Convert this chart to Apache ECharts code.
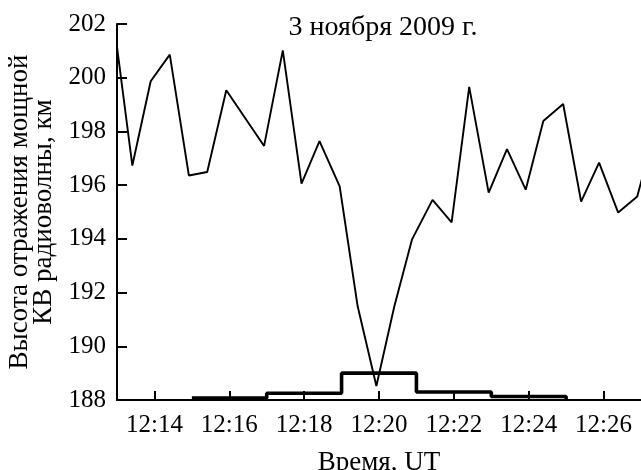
<!DOCTYPE html>
<html>
<head>
<meta charset="utf-8">
<script src="https://cdn.jsdelivr.net/npm/echarts@6/dist/echarts.min.js"></script>
<style>html,body{margin:0;padding:0;background:#fff}#c{width:641px;height:470px}</style>
</head>
<body>
<div id="c"></div>
<script>
// Time in minutes after 12:00
const lineTimes = [13.0, 13.41, 13.9, 14.41, 14.92, 15.41, 15.92, 16.93, 17.43, 17.93, 18.41, 18.95, 19.43, 19.93, 20.41, 20.88, 21.43, 21.94, 22.41, 22.93, 23.42, 23.92, 24.39, 24.92, 25.4, 25.88, 26.39, 26.9, 27.4];
const lineValues = [201.15, 196.73, 199.87, 200.86, 196.36, 196.49, 199.53, 197.46, 201.02, 196.06, 197.64, 195.95, 191.49, 188.52, 191.49, 193.97, 195.45, 194.61, 199.66, 195.72, 197.34, 195.83, 198.39, 199.02, 195.39, 196.84, 194.98, 195.58, 198.2];
const stepTimes = [15, 17, 19, 21, 23, 25];
const stepValues = [188.07, 188.25, 189.0, 188.3, 188.13, 188.0];
const xTickValues = [14, 16, 18, 20, 22, 24, 26];
const yTicks = {min: 188, max: 202, interval: 2};
const titleText = '3 ноября 2009 г.';
const yName = 'Высота отражения мощной\nКВ радиоволны, км';
const xName = 'Время, UT';

const font = 'Liberation Serif';
const fmtTime = v => '12:' + String(Math.round(v)).padStart(2, '0');

const chart = echarts.init(document.getElementById('c'), null, {renderer: 'canvas'});
chart.setOption({
  animation: false,
  backgroundColor: '#fff',
  title: {
    text: titleText, left: 378, top: 9, textAlign: 'center',
    textStyle: {fontFamily: font, fontSize: 28, fontWeight: 'normal', color: '#000'}
  },
  grid: {left: 117, top: 24, right: 0, bottom: 70, containLabel: false, outerBoundsMode: 'none'},
  xAxis: {
    type: 'value', min: 13, max: 27,
    axisLine: {show: true, onZero: false, lineStyle: {color: '#000', width: 2}},
    axisTick: {show: true, inside: true, length: 9, customValues: xTickValues, lineStyle: {color: '#000', width: 2}},
    axisLabel: {customValues: xTickValues, formatter: fmtTime, fontFamily: font, fontSize: 25, color: '#000', margin: 13},
    splitLine: {show: false},
    name: xName, nameLocation: 'middle', nameGap: 49,
    nameTextStyle: {fontFamily: font, fontSize: 27, color: '#000'}
  },
  yAxis: {
    type: 'value', min: yTicks.min, max: yTicks.max, interval: yTicks.interval,
    axisLine: {show: true, lineStyle: {color: '#000', width: 2}},
    axisTick: {show: true, inside: true, length: 10, lineStyle: {color: '#000', width: 2}},
    axisLabel: {fontFamily: font, fontSize: 25, color: '#000', margin: 11},
    splitLine: {show: false},
    name: yName, nameLocation: 'middle', nameGap: 49, nameRotate: 90,
    nameTextStyle: {fontFamily: font, fontSize: 27, color: '#000', lineHeight: 24, align: 'center'}
  },
  series: [
    {
      type: 'line', data: lineTimes.map((t, i) => [t, lineValues[i]]),
      showSymbol: false, symbol: 'none', clip: true,
      lineStyle: {color: '#000', width: 1.9}
    },
    {
      type: 'line', step: 'end', data: stepTimes.map((t, i) => [t, stepValues[i]]),
      showSymbol: false, symbol: 'none', clip: true,
      lineStyle: {color: '#000', width: 3.6}
    }
  ]
});
</script>
</body>
</html>
